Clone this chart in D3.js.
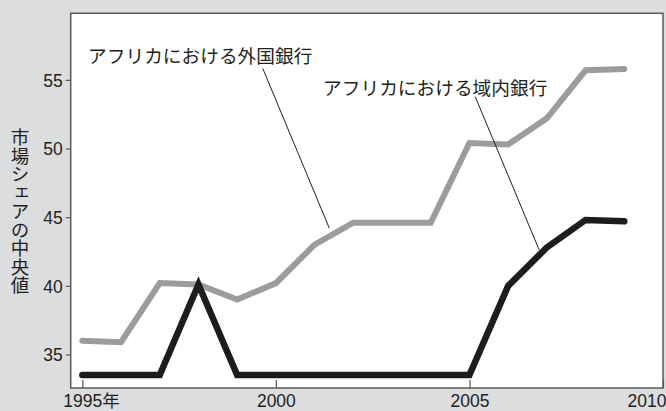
<!doctype html>
<html lang="ja">
<head>
<meta charset="utf-8">
<title>市場シェアの中央値</title>
<style>
  body { margin: 0; background: #dcdddf; }
  svg { display: block; }
  text { font-family: "Liberation Sans", "Noto Sans CJK JP", sans-serif; fill: #231f20; }
  .jp { font-family: "Noto Sans CJK JP", sans-serif; }
</style>
</head>
<body>
<svg id="chart"></svg>
<script src="https://cdn.jsdelivr.net/npm/d3@7"></script>
<script>
// data
var years = [1995, 1996, 1997, 1998, 1999, 2000, 2001, 2002, 2003, 2004, 2005, 2006, 2007, 2008, 2009];
var foreignBanks = [36.0, 35.9, 40.2, 40.1, 39.0, 40.2, 43.0, 44.6, 44.6, 44.6, 50.4, 50.3, 52.2, 55.7, 55.8];
var domesticBanks = [33.5, 33.5, 33.5, 40.1, 33.5, 33.5, 33.5, 33.5, 33.5, 33.5, 33.5, 40.0, 42.8, 44.8, 44.7];
var xTicks = [1995, 2000, 2005, 2010];
var yTicks = [35, 40, 45, 50, 55];
var yTitle = "市場シェアの中央値";
var labels = ["アフリカにおける外国銀行", "アフリカにおける域内銀行"];
// label anchor [year, value] and leader line [[year, value], [year, value]]
var labelPos = [[1995.15, 56.85], [2001.22, 54.55]];
var leaders = [
  [[1999.66, 55.84], [2001.38, 44.2]],
  [[2005.15, 53.77], [2006.8, 42.63]]
];

var W = 666, H = 411;
var plot = { left: 70.7, right: 663, top: 13.3, bottom: 388 };

var svg = d3.select("#chart").attr("width", W).attr("height", H);

var x = d3.scaleLinear().domain([1994.7, 2010]).range([plot.left, plot.right]);
var y = d3.scaleLinear().domain([32.56, 59.85]).range([plot.bottom, plot.top]);

svg.append("rect")
  .attr("x", plot.left).attr("y", plot.top)
  .attr("width", plot.right - plot.left).attr("height", plot.bottom - plot.top)
  .attr("fill", "#fff").attr("stroke", "#58585a").attr("stroke-width", 1.5);

// y axis
var yAxis = svg.append("g")
  .attr("transform", "translate(" + plot.left + ",0)")
  .call(d3.axisLeft(y).tickValues(yTicks).tickSize(5).tickPadding(3));
yAxis.select(".domain").remove();
yAxis.selectAll("line").attr("stroke", "#58585a").attr("stroke-width", 1.2);
yAxis.selectAll("text").style("font-size", "17.5px").attr("dy", "0.36em");

// x axis, inner ticks
var xAxis = svg.append("g")
  .attr("transform", "translate(0," + plot.bottom + ")")
  .call(d3.axisBottom(x).tickValues(xTicks).tickFormat(d3.format("d")).tickSize(-8).tickPadding(4));
xAxis.select(".domain").remove();
xAxis.selectAll("line").attr("stroke", "#58585a").attr("stroke-width", 1.2);
xAxis.selectAll("text").style("font-size", "17.5px").attr("y", 7).attr("dy", "0.71em");
xAxis.selectAll(".tick").filter(function (d) { return d === 1995; }).select("text")
  .each(function () {
    var t = d3.select(this);
    var half = this.getComputedTextLength() / 2;
    t.attr("text-anchor", "start").attr("x", -half)
      .append("tspan").attr("class", "jp").text("年");
  });
// last label sits against the right edge
xAxis.selectAll(".tick").filter(function (d) { return d === 2010; }).select("text")
  .attr("text-anchor", "end").attr("x", W - plot.right);

// y title, vertical
svg.append("text")
  .attr("class", "jp")
  .attr("x", 20).attr("y", 211)
  .attr("text-anchor", "middle")
  .style("writing-mode", "vertical-rl")
  .style("font-size", "18.5px")
  .text(yTitle);

var line = d3.line()
  .x(function (d) { return x(d[0]); })
  .y(function (d) { return y(d[1]); });

svg.append("path")
  .datum(d3.zip(years, foreignBanks))
  .attr("fill", "none").attr("stroke", "#9b9c9e").attr("stroke-width", 6)
  .attr("stroke-linejoin", "miter").attr("stroke-linecap", "round")
  .attr("d", line);

svg.append("path")
  .datum(d3.zip(years, domesticBanks))
  .attr("fill", "none").attr("stroke", "#1f1c1d").attr("stroke-width", 6.5)
  .attr("stroke-linejoin", "miter").attr("stroke-linecap", "round")
  .attr("d", line);

// leader lines and labels
leaders.forEach(function (l) {
  svg.append("line")
    .attr("x1", x(l[0][0])).attr("y1", y(l[0][1]))
    .attr("x2", x(l[1][0])).attr("y2", y(l[1][1]))
    .attr("stroke", "#231f20").attr("stroke-width", 1);
});

labels.forEach(function (t, i) {
  svg.append("text")
    .attr("class", "jp")
    .attr("x", x(labelPos[i][0])).attr("y", y(labelPos[i][1]))
    .attr("dominant-baseline", "central")
    .style("font-size", "18.7px")
    .text(t);
});
</script>
</body>
</html>
